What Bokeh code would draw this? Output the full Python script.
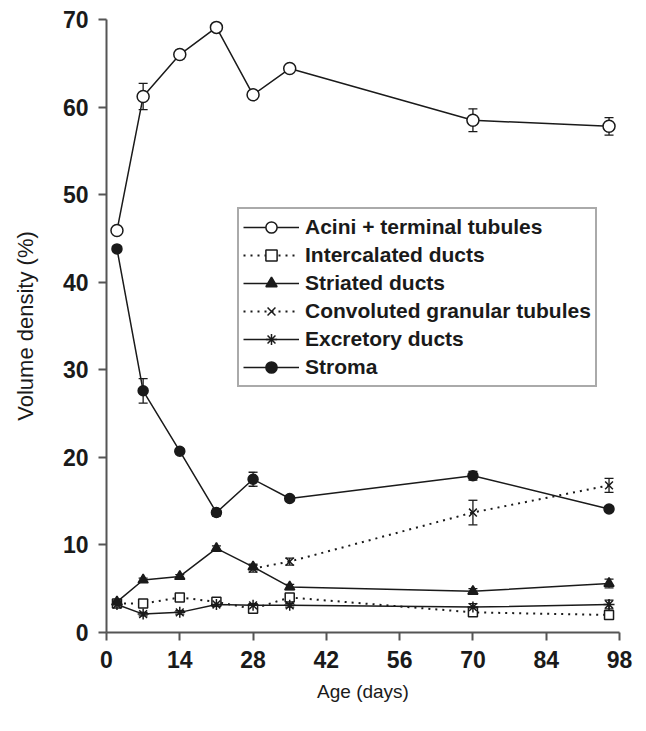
from bokeh.plotting import figure
from bokeh.models import ColumnDataSource, Whisker, TeeHead, Legend, LegendItem, FixedTicker
from bokeh.embed import file_html
from bokeh.resources import INLINE

days = [2, 7, 14, 21, 28, 35, 70, 96]
acini = [45.9, 61.2, 66.0, 69.1, 61.4, 64.4, 58.5, 57.8]
acini_err = [0.3, 1.5, 0.5, 0.4, 0.4, 0.4, 1.3, 1.0]
intercalated = [3.3, 3.3, 4.0, 3.5, 2.7, 4.0, 2.3, 2.0]
intercalated_err = [0.2, 0.2, 0.2, 0.2, 0.2, 0.2, 0.3, 0.3]
striated = [3.5, 6.0, 6.4, 9.6, 7.5, 5.2, 4.7, 5.6]
striated_err = [0.2, 0.2, 0.2, 0.3, 0.3, 0.3, 0.3, 0.5]
cgt_days = [28, 35, 70, 96]
cgt = [7.3, 8.1, 13.7, 16.8]
cgt_err = [0.4, 0.4, 1.4, 0.8]
excretory = [3.2, 2.1, 2.3, 3.2, 3.1, 3.1, 2.9, 3.2]
excretory_err = [0.2, 0.2, 0.2, 0.2, 0.2, 0.2, 0.4, 0.5]
stroma = [43.8, 27.6, 20.7, 13.7, 17.5, 15.3, 17.9, 14.1]
stroma_err = [0.3, 1.4, 0.3, 0.4, 0.8, 0.3, 0.5, 0.3]

x_ticks = [0, 14, 28, 42, 56, 70, 84, 98]
y_ticks = [0, 10, 20, 30, 40, 50, 60, 70]

INK = "#1a1a1a"
FONT = "Liberation Sans"

p = figure(width=646, height=731, output_backend="svg", toolbar_location=None,
           x_range=(0, 98), y_range=(0, 70),
           min_border_left=106, min_border_right=27, min_border_top=19, min_border_bottom=99)
p.outline_line_color = None
p.xgrid.visible = False
p.ygrid.visible = False

for ax in (p.xaxis[0], p.yaxis[0]):
    ax.axis_line_color = "#555555"
    ax.axis_line_width = 2
    ax.major_tick_line_color = "#555555"
    ax.major_tick_line_width = 2
    ax.major_tick_out = 8
    ax.major_tick_in = 0
    ax.minor_tick_line_color = None
    ax.major_label_text_font = FONT
    ax.major_label_text_font_style = "bold"
    ax.major_label_text_font_size = "23px"
    ax.major_label_text_color = INK
    ax.axis_label_text_font = FONT
    ax.axis_label_text_font_style = "normal"
    ax.axis_label_text_color = INK

p.xaxis.ticker = FixedTicker(ticks=x_ticks)
p.yaxis.ticker = FixedTicker(ticks=y_ticks)
p.xaxis.axis_label = "Age (days)"
p.yaxis.axis_label = "Volume density (%)"
p.xaxis.axis_label_text_font_size = "19px"
p.yaxis.axis_label_text_font_size = "22px"
p.xaxis.major_label_standoff = 10
p.yaxis.major_label_standoff = 10
p.xaxis.axis_label_standoff = 10
p.yaxis.axis_label_standoff = 22

series = [
    ("Acini + terminal tubules", days, acini, acini_err, "solid", "circle", "white", 12),
    ("Intercalated ducts", days, intercalated, intercalated_err, "2 5", "square", "white", 9),
    ("Striated ducts", days, striated, striated_err, "solid", "triangle", INK, 10),
    ("Convoluted granular tubules", cgt_days, cgt, cgt_err, "2 5", "x", INK, 11),
    ("Excretory ducts", days, excretory, excretory_err, "solid", "asterisk", INK, 11),
    ("Stroma", days, stroma, stroma_err, "solid", "circle", INK, 10),
]

items = []
for name, xs, ys, errs, dash, marker, fill, size in series:
    src = ColumnDataSource(dict(x=xs, y=ys,
                                lo=[a - b for a, b in zip(ys, errs)],
                                hi=[a + b for a, b in zip(ys, errs)]))
    w = Whisker(base="x", lower="lo", upper="hi", source=src,
                line_color=INK, line_width=1.3,
                upper_head=TeeHead(size=9, line_color=INK, line_width=1.3),
                lower_head=TeeHead(size=9, line_color=INK, line_width=1.3))
    p.add_layout(w)
    lw = 2 if dash != "solid" else 1.5
    r_line = p.line("x", "y", source=src, line_color=INK, line_width=lw, line_dash=dash)
    r_mark = p.scatter("x", "y", source=src, marker=marker, size=size,
                       fill_color=fill, line_color=INK, line_width=1.5)
    items.append(LegendItem(label=name, renderers=[r_line, r_mark]))

legend = Legend(items=items, location=(131, 245))
legend.label_text_font = FONT
legend.label_text_font_style = "bold"
legend.label_text_font_size = "21px"
legend.label_text_color = INK
legend.glyph_width = 56
legend.glyph_height = 28
legend.label_height = 28
legend.label_standoff = 6
legend.spacing = 0
legend.padding = 4
legend.margin = 0
legend.border_line_color = "#555555"
legend.border_line_width = 2
legend.background_fill_color = "white"
legend.background_fill_alpha = 1
p.add_layout(legend)

open("out.html", "w").write(file_html(p, INLINE))
